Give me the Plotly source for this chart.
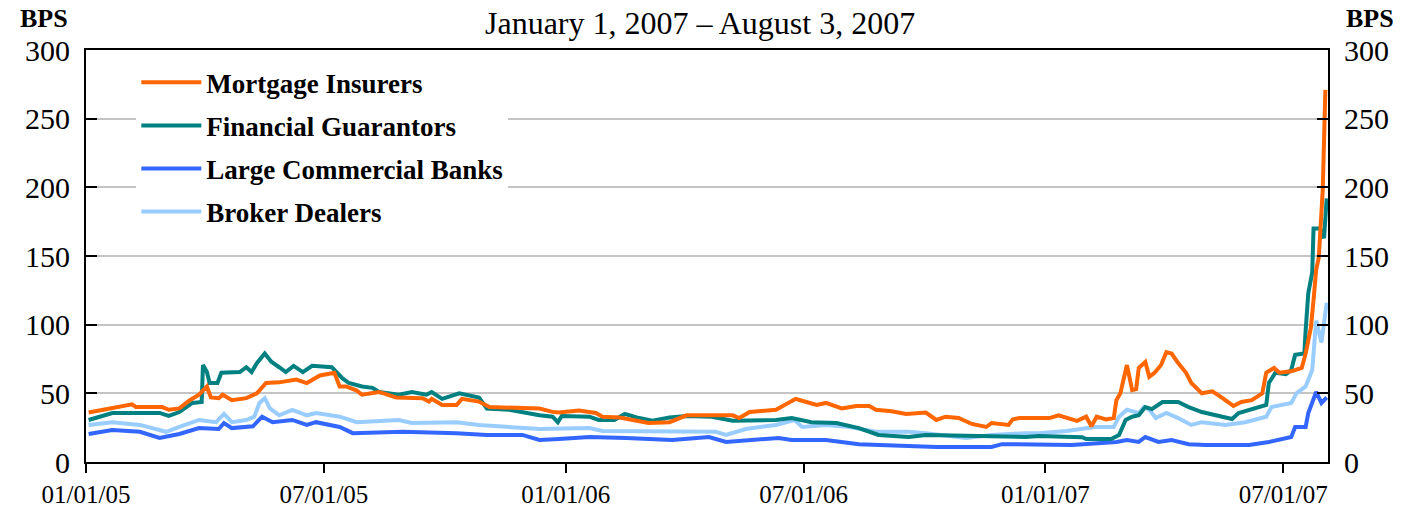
import plotly.graph_objects as go

# ---------------- data ----------------
mi_dates = ["2005-01-03","2005-01-21","2005-02-05","2005-02-08","2005-02-28","2005-03-05","2005-03-13","2005-03-21",
            "2005-03-28","2005-04-03","2005-04-06","2005-04-12","2005-04-15","2005-04-22","2005-05-03","2005-05-11",
            "2005-05-18","2005-05-28","2005-06-10","2005-06-18","2005-06-28","2005-07-09","2005-07-13","2005-07-18",
            "2005-07-26","2005-07-30","2005-08-12","2005-08-25","2005-09-14","2005-09-19","2005-09-21","2005-09-29",
            "2005-10-10","2005-10-14","2005-10-27","2005-11-04","2005-12-12","2005-12-22","2005-12-27","2006-01-11",
            "2006-01-24","2006-01-29","2006-02-11","2006-03-05","2006-03-21","2006-04-03","2006-05-08","2006-05-13",
            "2006-05-21","2006-06-10","2006-06-20","2006-06-25","2006-07-03","2006-07-11","2006-07-18","2006-07-30",
            "2006-08-10","2006-08-20","2006-08-25","2006-09-06","2006-09-17","2006-10-02","2006-10-10","2006-10-17",
            "2006-10-27","2006-11-06","2006-11-17","2006-11-21","2006-12-04","2006-12-07","2006-12-12","2006-12-27",
            "2007-01-04","2007-01-11","2007-01-19","2007-01-25","2007-02-01","2007-02-05","2007-02-09","2007-02-16",
            "2007-02-22","2007-02-24","2007-02-27","2007-03-04","2007-03-08","2007-03-11","2007-03-13","2007-03-18",
            "2007-03-21","2007-03-25","2007-03-30","2007-04-03","2007-04-07","2007-04-12","2007-04-18","2007-04-22",
            "2007-04-30","2007-05-08","2007-05-15","2007-05-24","2007-05-30","2007-06-07","2007-06-15","2007-06-18",
            "2007-06-24","2007-06-28","2007-07-07","2007-07-15","2007-07-18","2007-07-22","2007-07-24","2007-07-26",
            "2007-07-28","2007-07-29","2007-07-31","2007-08-02"]
mi_values = [36,39,42,40,40,38,39,45,
             49,55,47,46.5,49,45,46.5,50,
             57.5,58,60,57.5,63,65,55,55,
             52,49,51,47,46.5,44,46,41.5,
             41.5,46,44,40,39,36.5,36,37.5,
             35.7,33,32.4,28.4,29,34,34,32,
             36.4,38,43.7,46,43.7,41.5,43,39,
             40.8,40.8,38,37,35,36,30.6,33,
             32,27.7,25.5,28.4,27,31,32,32,
             32,34,32,30,33,26,33,31,
             32,45,50,70.6,52.4,53,68.5,72.8,
             62,65,70.6,80,79,72,65,57.5,
             50,51.5,47,40.8,43.7,45,50,65,
             68.5,65,66,68.5,79,98,118,140,
             149,167,198,271]

fg_dates = ["2005-01-03","2005-01-21","2005-02-26","2005-03-05","2005-03-13","2005-03-23","2005-03-30","2005-03-31",
            "2005-04-03","2005-04-05","2005-04-11","2005-04-14","2005-04-28","2005-05-03","2005-05-07","2005-05-11",
            "2005-05-17","2005-05-22","2005-05-28","2005-06-02","2005-06-08","2005-06-15","2005-06-22","2005-07-07",
            "2005-07-15","2005-07-20","2005-07-30","2005-08-07","2005-08-12","2005-08-27","2005-09-06","2005-09-17",
            "2005-09-21","2005-09-29","2005-10-12","2005-10-27","2005-11-02","2005-11-19","2005-12-12","2005-12-22",
            "2005-12-26","2005-12-29","2006-01-19","2006-01-26","2006-02-07","2006-02-15","2006-02-24","2006-03-08",
            "2006-03-21","2006-04-03","2006-04-22","2006-05-08","2006-06-10","2006-06-22","2006-07-07","2006-07-26",
            "2006-08-12","2006-08-27","2006-09-19","2006-10-02","2006-12-17","2006-12-27","2007-01-29","2007-02-01",
            "2007-02-20","2007-02-26","2007-03-03","2007-03-08","2007-03-13","2007-03-18","2007-03-23","2007-03-31",
            "2007-04-12","2007-04-20","2007-04-30","2007-05-13","2007-05-23","2007-05-28","2007-06-07","2007-06-18",
            "2007-06-20","2007-06-25","2007-07-03","2007-07-07","2007-07-10","2007-07-17","2007-07-18","2007-07-20",
            "2007-07-23","2007-07-24","2007-07-29","2007-08-01","2007-08-03"]
fg_values = [30.6,35.7,35.7,33.5,36.4,43,43.7,70.6,
             65.5,57.5,57.5,65,65.5,69,65.5,72,
             79,73,69,65.5,70,65.5,70,69,
             61,57.5,55,54,51,49,51,49,
             51,46,50,47,39,38,34,33,
             29,33.5,33,30.6,30.6,35,32.4,30,
             32.4,33.5,33,30,30.6,32,29,28.4,
             24.7,19.7,18.2,19.7,18.2,19,18,16.7,
             16.7,19.7,30.6,33,34,40,38.5,43.7,
             43.7,40,36.4,33.5,31.3,35.7,38.5,41.5,
             57.5,65,64,67,78,79,96,123,
             138,170,170,163,192]

lcb_dates = ["2005-01-03","2005-01-21","2005-02-11","2005-02-26","2005-03-13","2005-03-28","2005-04-12","2005-04-16",
             "2005-04-22","2005-05-08","2005-05-15","2005-05-23","2005-06-07","2005-06-18","2005-06-25","2005-07-13",
             "2005-07-23","2005-08-30","2005-10-10","2005-11-02","2005-11-29","2005-12-12","2005-12-27","2006-01-19",
             "2006-02-16","2006-03-23","2006-04-20","2006-05-03","2006-06-12","2006-06-22","2006-07-18","2006-08-12",
             "2006-10-10","2006-11-21","2006-11-29","2006-12-17","2006-12-27","2007-01-21","2007-02-24","2007-03-04",
             "2007-03-13","2007-03-18","2007-03-28","2007-04-07","2007-04-20","2007-05-03","2007-06-05","2007-06-20",
             "2007-07-07","2007-07-10","2007-07-18","2007-07-20","2007-07-26","2007-07-30","2007-08-03"]
lcb_values = [20.4,23.3,22,17.5,20.4,24.7,24,28.4,
              24.7,26,33,29,30.6,27,29,25.5,
              21,22,21,19.7,19.7,16,16.7,18.2,
              17.5,16,18.2,14.6,17.5,16,16,13,
              11,11,13,13,13,12.4,14.6,16,
              14.6,18.2,14.6,16,13,12.4,12.4,14.6,
              18.2,25.5,25.5,35.7,51,43,47]

bd_dates = ["2005-01-03","2005-01-21","2005-02-11","2005-03-03","2005-03-13","2005-03-28","2005-04-10","2005-04-16",
            "2005-04-22","2005-05-03","2005-05-09","2005-05-13","2005-05-17","2005-05-21","2005-05-28","2005-06-07",
            "2005-06-18","2005-06-25","2005-07-13","2005-07-26","2005-08-27","2005-09-06","2005-10-10","2005-10-27",
            "2005-12-12","2006-01-11","2006-01-19","2006-01-29","2006-04-25","2006-05-03","2006-05-18","2006-06-10",
            "2006-06-24","2006-06-30","2006-07-18","2006-08-05","2006-08-25","2006-09-19","2006-10-02","2006-11-02",
            "2006-11-21","2006-12-17","2006-12-27","2007-01-17","2007-02-08","2007-02-22","2007-02-26","2007-03-04",
            "2007-03-13","2007-03-17","2007-03-21","2007-03-26","2007-04-03","2007-04-12","2007-04-22","2007-04-30",
            "2007-05-18","2007-06-02","2007-06-18","2007-06-22","2007-07-07","2007-07-11","2007-07-18","2007-07-23",
            "2007-07-26","2007-07-30","2007-08-03"]
bd_values = [27,29,27,22,25.5,30.6,29,35,
             29,30.6,33,43,46.5,39,34,38,
             34,35.7,33,29,30.6,28.4,29,27,
             24,24,24.7,22.6,22,19.7,24,27,
             30.6,25.5,27,25.5,22,22,21,17.5,
             19.7,21,21,22.6,25.5,25.5,33,38,
             35.7,40,38,32,35.7,32,27,29,
             27,29,33,40,43,50,55,67,
             103,87,116]

series_names = ["Mortgage Insurers", "Financial Guarantors", "Large Commercial Banks", "Broker Dealers"]
series_colors = ["#FF6600", "#008080", "#3366FF", "#99CCFF"]

x_tick_vals = ["2005-01-01", "2005-07-01", "2006-01-01", "2006-07-01", "2007-01-01", "2007-07-01"]
x_tick_text = ["01/01/05", "07/01/05", "01/01/06", "07/01/06", "01/01/07", "07/01/07"]
y_tick_vals = [0, 50, 100, 150, 200, 250, 300]

subtitle_text = "January 1, 2007 \u2013 August 3, 2007"

# ---------------- figure ----------------
SERIF = "Liberation Serif, Times New Roman, serif"
fig = go.Figure()

draw = [(3, bd_dates, bd_values), (2, lcb_dates, lcb_values), (1, fg_dates, fg_values), (0, mi_dates, mi_values)]
for idx, xs, ys in draw:
    fig.add_trace(go.Scatter(
        x=xs, y=ys, mode="lines", name=series_names[idx],
        line=dict(color=series_colors[idx], width=4),
        legendgroup=str(idx), legendrank=idx + 1,
    ))

# invisible companion for the right axis
fig.add_trace(go.Scatter(x=mi_dates[:1], y=mi_values[:1], yaxis="y2", mode="lines",
                         showlegend=False, hoverinfo="skip", line=dict(width=0)))

axis_font = dict(family=SERIF, size=30, color="black")
fig.update_layout(
    width=1424, height=517,
    margin=dict(l=86, r=96, t=50, b=55, autoexpand=False),
    paper_bgcolor="white", plot_bgcolor="white",
    showlegend=True,
    legend=dict(
        x=0.0405, y=0.98, xanchor="left", yanchor="top",
        bgcolor="white", borderwidth=0,
        font=dict(family=SERIF, size=27, color="black", weight="bold"),
        traceorder="grouped", tracegroupgap=5,
        itemwidth=60,
    ),
    xaxis=dict(
        type="date", range=["2005-01-01", "2007-08-04"], automargin=False,
        tickvals=x_tick_vals, ticktext=x_tick_text,
        ticks="outside", ticklen=9, tickwidth=2, tickcolor="black",
        showline=True, linecolor="black", linewidth=2, mirror=True,
        showgrid=False, zeroline=False,
        tickfont=dict(family=SERIF, size=25, color="black"),
    ),
    yaxis=dict(
        range=[0, 300], tickvals=y_tick_vals, automargin=False,
        ticks="inside", ticklen=11, tickwidth=2, tickcolor="black",
        showline=True, linecolor="black", linewidth=2,
        showgrid=True, gridcolor="#C4C4C4", gridwidth=2, zeroline=False,
        tickfont=axis_font, ticklabelstandoff=8,
    ),
    yaxis2=dict(
        range=[0, 300], tickvals=y_tick_vals, overlaying="y", side="right", anchor="x",
        automargin=False,
        ticks="inside", ticklen=11, tickwidth=2, tickcolor="black",
        showline=True, linecolor="black", linewidth=2,
        showgrid=False, zeroline=False,
        tickfont=axis_font, ticklabelstandoff=8,
    ),
    annotations=[
        dict(text="BPS", xref="paper", yref="paper", x=(44 - 86) / 1242, y=(462 - 18) / 412,
             xanchor="center", yanchor="middle", showarrow=False,
             font=dict(family=SERIF, size=26, color="black", weight="bold")),
        dict(text="BPS", xref="paper", yref="paper", x=(1370 - 86) / 1242, y=(462 - 18) / 412,
             xanchor="center", yanchor="middle", showarrow=False,
             font=dict(family=SERIF, size=26, color="black", weight="bold")),
        dict(text=subtitle_text, xref="paper", yref="paper", x=(700 - 86) / 1242, y=(462 - 23) / 412,
             xanchor="center", yanchor="middle", showarrow=False,
             font=dict(family=SERIF, size=32, color="black")),
    ],
)

fig.write_html("out.html", config={"displayModeBar": False},
               post_script="document.body.style.margin='0';document.body.style.overflow='hidden';")
